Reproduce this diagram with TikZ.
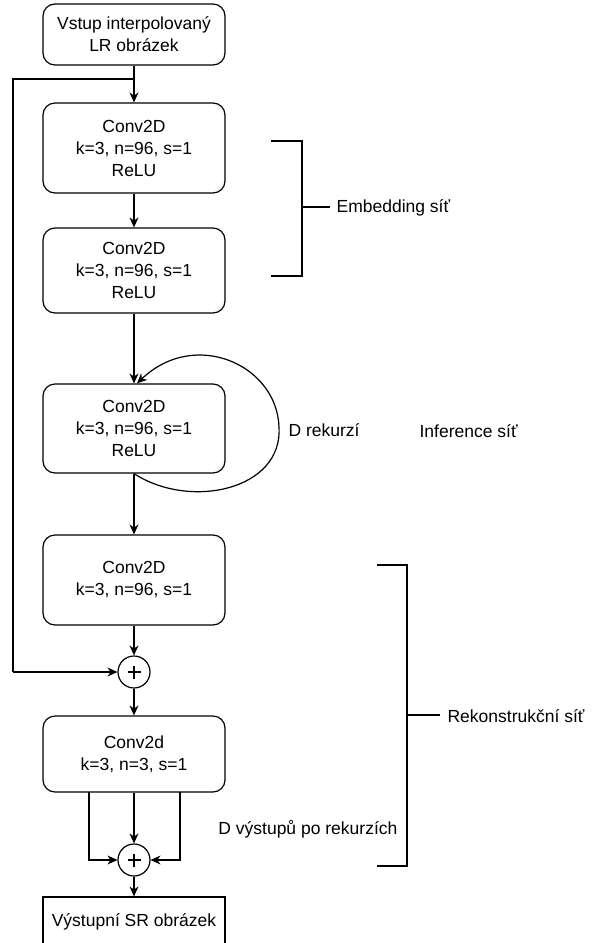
\documentclass[tikz,border=0pt]{standalone}
\usepackage{fontspec}
\setmainfont{Liberation Sans}
\usetikzlibrary{arrows.meta}
\begin{document}
\begin{tikzpicture}[x=1pt,y=-1pt,
  font=\fontsize{17.5}{22}\selectfont,
  line width=1.2pt,
  >={Stealth[length=10pt,width=9pt]},
  box/.style={draw, rounded corners=12pt, minimum width=182pt, align=center, inner sep=0pt},
  plus/.style={draw, circle, minimum size=32pt, inner sep=0pt,
    path picture={\draw[line width=1.3pt] ([xshift=-6.5pt]path picture bounding box.center) -- ([xshift=6.5pt]path picture bounding box.center)
      ([yshift=-6.5pt]path picture bounding box.center) -- ([yshift=6.5pt]path picture bounding box.center);}},
  lbl/.style={anchor=west, inner sep=0pt}]
\useasboundingbox (0,0) rectangle (600,943);

\node[box, minimum height=61pt] (in) at (134,34.5) {Vstup interpolovaný\\LR obrázek};
\node[box, minimum height=90pt] (c1) at (134,148) {Conv2D\\k=3, n=96, s=1\\ReLU};
\node[box, minimum height=85pt] (c2) at (134,270.5) {Conv2D\\k=3, n=96, s=1\\ReLU};
\node[box, minimum height=89pt] (c3) at (134,428.5) {Conv2D\\k=3, n=96, s=1\\ReLU};
\node[box, minimum height=90pt] (c4) at (134,580) {Conv2D\\k=3, n=96, s=1};
\node[plus] (p1) at (134,672) {};
\node[box, minimum height=76pt] (c5) at (134,754) {Conv2d\\k=3, n=3, s=1};
\node[plus] (p2) at (134,860) {};
\node[draw, minimum width=182pt, minimum height=49pt, inner sep=0pt] (out) at (134,921.5) {Výstupní SR obrázek};

\coordinate (j) at (134,79);
\coordinate (l1) at (13,79);
\coordinate (l2) at (13,672);
\coordinate (b1) at (89,792);
\coordinate (b3) at (180,792);

\draw[->] (in.south) -- (c1.north);
\draw (j) -- (l1) -- (l2);
\draw[->] (l2) -- (p1.west);
\draw[->] (c1.south) -- (c2.north);
\draw[->] (c2.south) -- (c3.north);
\draw[->] (c3.south) .. controls (190,510) and (283,490) .. (279,427)
  .. controls (277,365) and (195,328) .. ([xshift=3pt]c3.north);
\draw[->] (c3.south) -- (c4.north);
\draw[->] (c4.south) -- (p1.north);
\draw[->] (p1.south) -- (c5.north);
\draw[->] (c5.south) -- (p2.north);
\draw[->] (b1) |- (p2.west);
\draw[->] (b3) |- (p2.east);
\draw[->] (p2.south) -- (out.north);

% brackets
\draw (271,141) -- (302,141) -- (302,276) -- (271,276);
\draw (302,207) -- (330,207);
\node[lbl] (emb) at (336,208) {Embedding síť};
\draw (377,565) -- (407,565) -- (407,866) -- (377,866);
\draw (407,715) -- (440,715);
\node[lbl] (rek) at (447,716) {Rekonstrukční síť};

\node[lbl] (drek) at (288,430) {D rekurzí};
\node[lbl] (inf) at (419,431) {Inference síť};
\node[anchor=east, inner sep=0pt] (dvys) at (398,829) {D výstupů po rekurzích};
\end{tikzpicture}
\end{document}
